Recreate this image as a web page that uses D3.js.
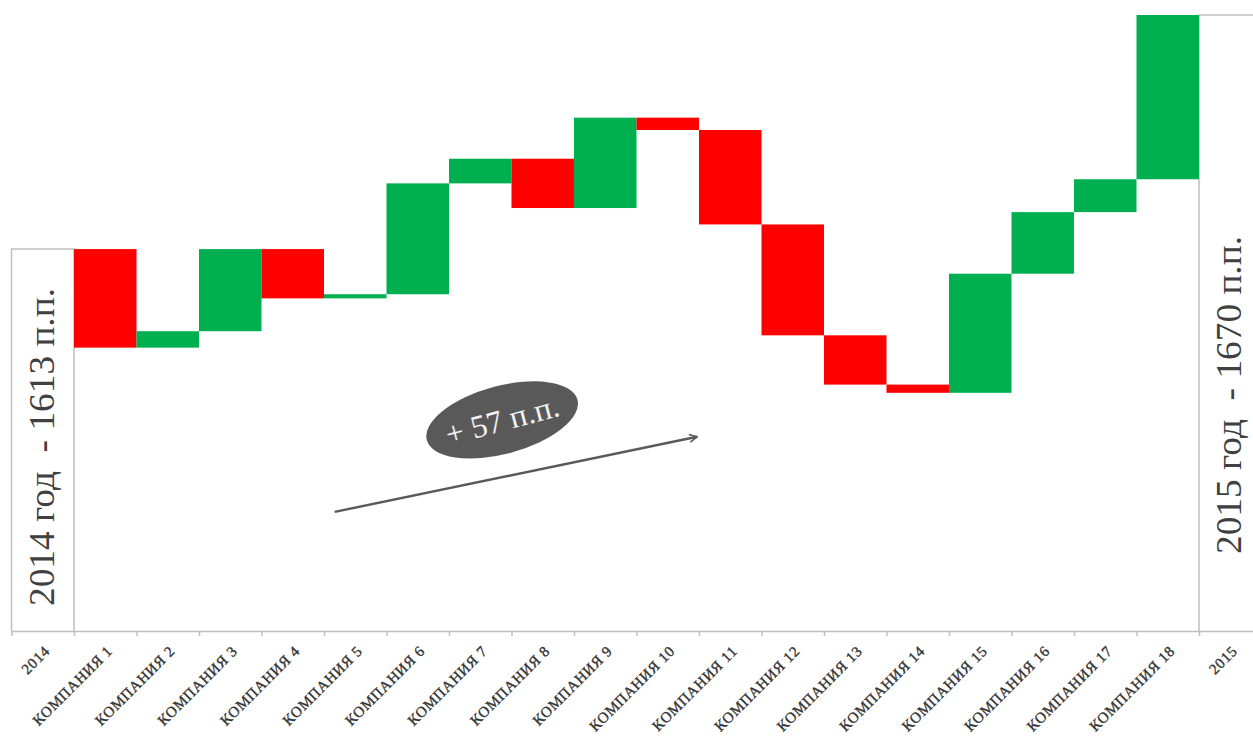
<!DOCTYPE html>
<html>
<head>
<meta charset="utf-8">
<script src="https://cdn.jsdelivr.net/npm/d3@7"></script>
<style>
  html, body { margin: 0; padding: 0; background: #fff; }
  svg { display: block; }
</style>
</head>
<body>
<svg id="chart" width="1253" height="736"></svg>
<script>
// Opening and closing totals
const startYear = "2014";
const endYear = "2015";
const startTotal = 1613;
const endTotal = 1670;

// Companies and their contribution to the change
const companies = d3.range(1, 19).map(i => "КОМПАНИЯ " + i);
const changes = [-24, 4, 20, -12, 1, 27, 6, -12, 22, -3, -23, -27, -12, -2, 29, 15, 8, 40];

// Axis floor
const axisMin = 1520;

const categories = [startYear, ...companies, endYear];

const W = 1253, H = 736;
const SERIF = '"Liberation Serif"';
const svg = d3.select("#chart");
svg.append("rect").attr("width", W).attr("height", H).attr("fill", "#fff");

const x = d3.scaleBand()
  .domain(categories)
  .range([11.5, 1261.5])
  .paddingInner(0)
  .paddingOuter(0);

const y = d3.scaleLinear()
  .domain([axisMin, endTotal])
  .range([631, 15]);

const GREEN = "#00b050", RED = "#ff0000", GRID = "#bfbfbf", TEXT = "#404040";

// Running level for the floating bars
let level = startTotal;
const steps = changes.map((d, i) => {
  const from = level;
  level += d;
  return { cat: companies[i], from, to: level, delta: d };
});

// Total bars (outlined columns)
const totals = [
  { cat: startYear, value: startTotal },
  { cat: endYear, value: endTotal }
];
const totalG = svg.append("g");
totals.forEach(t => {
  const x0 = x(t.cat), x1 = x0 + x.bandwidth();
  const yt = y(t.value), yb = y(axisMin);
  totalG.append("path")
    .attr("d", `M${x0},${yb}V${yt}H${x1}V${yb}`)
    .attr("fill", "#fff")
    .attr("stroke", GRID)
    .attr("stroke-width", 1.5);
});

// Floating change bars
svg.append("g")
  .selectAll("rect")
  .data(steps)
  .join("rect")
  .attr("x", d => x(d.cat))
  .attr("width", x.bandwidth())
  .attr("y", d => y(Math.max(d.from, d.to)))
  .attr("height", d => Math.abs(y(d.from) - y(d.to)))
  .attr("fill", d => d.delta >= 0 ? GREEN : RED);

// Category boundary ticks and the axis line
const edge = d3.scaleLinear().domain([0, categories.length]).range(x.range());
const edgeAxis = svg.append("g")
  .attr("transform", `translate(0,${y(axisMin)})`)
  .call(d3.axisBottom(edge).tickValues(d3.range(categories.length + 1)).tickFormat("").tickSize(5).tickSizeOuter(0));
edgeAxis.select(".domain").attr("stroke", GRID).attr("stroke-width", 1.5);
edgeAxis.selectAll(".tick line").attr("stroke", GRID).attr("stroke-width", 1.5);

// Category labels
const labelAxis = svg.append("g")
  .attr("transform", `translate(0,${y(axisMin)})`)
  .call(d3.axisBottom(x).tickSize(0).tickPadding(0));
labelAxis.attr("font-family", null);
labelAxis.select(".domain").remove();
labelAxis.selectAll(".tick text")
  .style("font-family", SERIF)
  .style("font-size", "15px")
  .attr("letter-spacing", 0.7)
  .attr("fill", "#333")
  .attr("stroke", "#333")
  .attr("stroke-width", 0.35)
  .attr("text-anchor", "end")
  .attr("dy", null)
  .attr("y", 0)
  .attr("transform", "translate(8,21) rotate(-45)");

// Totals written inside the outlined columns
const fmtTotal = (yr, v) => `${yr} год  - ${v} п.п.`;
[
  { cat: startYear, value: startTotal, cy: 447, dx: 11 },
  { cat: endYear, value: endTotal, cy: 395, dx: 11 }
].forEach(t => {
  const cx = x(t.cat) + x.bandwidth() / 2 + t.dx;
  svg.append("text")
    .attr("transform", `translate(${cx},${t.cy}) rotate(-90)`)
    .attr("text-anchor", "middle")
    .style("font-family", SERIF)
    .style("font-size", "36px")
    .attr("fill", TEXT)
    .attr("textLength", 318)
    .attr("lengthAdjust", "spacingAndGlyphs")
    .style("white-space", "pre")
    .text(fmtTotal(t.cat, t.value));
});

// Overall change: arrow and badge
const defs = svg.append("defs");
defs.append("marker")
  .attr("id", "arrowHead")
  .attr("viewBox", "0 0 10 10")
  .attr("refX", 9).attr("refY", 5)
  .attr("markerWidth", 4).attr("markerHeight", 4)
  .attr("markerUnits", "strokeWidth")
  .attr("orient", "auto")
  .append("path")
  .attr("d", "M1,1 L9,5 L1,9")
  .attr("fill", "none")
  .attr("stroke", "#595959")
  .attr("stroke-width", 1.6);

const arrowFrom = { cat: "КОМПАНИЯ 5", frac: 0.17, value: 1549 };
const arrowTo = { cat: "КОМПАНИЯ 10", frac: 0.97, value: 1567.3 };
const px = p => x(p.cat) + p.frac * x.bandwidth();

svg.append("line")
  .attr("x1", px(arrowFrom)).attr("y1", y(arrowFrom.value))
  .attr("x2", px(arrowTo)).attr("y2", y(arrowTo.value))
  .attr("stroke", "#595959")
  .attr("stroke-width", 2.4)
  .attr("marker-end", "url(#arrowHead)");

const badge = { cat: "КОМПАНИЯ 7", frac: 0.85, value: 1571.4 };
const badgeG = svg.append("g")
  .attr("transform", `translate(${px(badge)},${y(badge.value)}) rotate(-15)`);
badgeG.append("ellipse")
  .attr("rx", 78).attr("ry", 34)
  .attr("fill", "#595959");
badgeG.append("text")
  .attr("text-anchor", "middle")
  .attr("y", 11)
  .style("font-family", SERIF)
  .style("font-size", "32px")
  .attr("fill", "#f2f2f2")
  .text(`+ ${endTotal - startTotal} п.п.`);
</script>
</body>
</html>
